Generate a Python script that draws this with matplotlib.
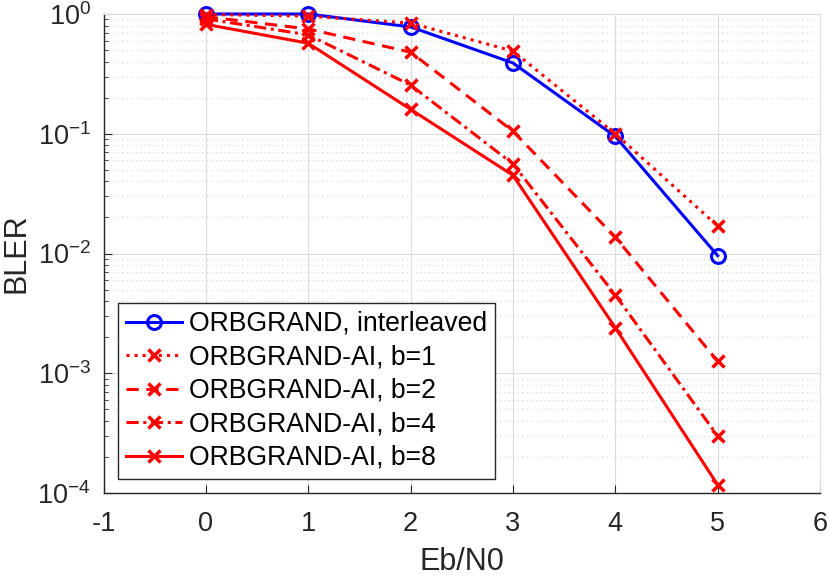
import numpy as np
import matplotlib.pyplot as plt
from matplotlib.ticker import LogLocator, NullFormatter

plt.rcParams['font.family'] = ['Liberation Sans', 'DejaVu Sans']
plt.rcParams['axes.unicode_minus'] = False
plt.rcParams['mathtext.fontset'] = 'custom'
plt.rcParams['mathtext.rm'] = 'Liberation Sans'
plt.rcParams['mathtext.it'] = 'Liberation Sans'

ebn0 = [0, 1, 2, 3, 4, 5]
bler_interleaved = [1.0, 1.0, 0.78, 0.39, 0.095, 0.0096]
bler_b1 = [0.99, 0.96, 0.84, 0.49, 0.10, 0.017]
bler_b2 = [0.95, 0.75, 0.48, 0.105, 0.0137, 0.00126]
bler_b4 = [0.91, 0.67, 0.255, 0.056, 0.0045, 0.0003]
bler_b8 = [0.82, 0.57, 0.16, 0.045, 0.0024, 0.000117]

labels = ["ORBGRAND, interleaved", "ORBGRAND-AI, b=1", "ORBGRAND-AI, b=2",
          "ORBGRAND-AI, b=4", "ORBGRAND-AI, b=8"]

fig = plt.figure(figsize=(8.3, 5.76), dpi=100)
ax = fig.add_axes([0.1247, 0.144, 0.8633, 0.8317])

lw = 2.2
ax.plot(ebn0, bler_interleaved, '-', color='#0000ff', lw=lw, marker='o',
        ms=10, mew=2.2, mfc='none', label=labels[0], clip_on=False, zorder=3)
red_series = [(bler_b1, ':'), (bler_b2, (0, (4, 2.5))), (bler_b4, (0, (4, 1.5, 1, 1.5))), (bler_b8, '-')]
for (vals, ls), lab in zip(red_series, labels[1:]):
    ax.plot(ebn0, vals, color='#ff0000', ls=ls, lw=lw, marker='x', ms=8, mew=2.5,
            label=lab, clip_on=False, zorder=3)

ax.set_yscale('log')
ax.set_xlim(-1, 6)
ax.set_ylim(1e-4, 1)
ax.set_xticks(range(-1, 7))
ax.yaxis.set_major_locator(LogLocator(base=10, numticks=10))
ax.yaxis.set_minor_locator(LogLocator(base=10, subs=np.arange(2, 10), numticks=20))
ax.yaxis.set_minor_formatter(NullFormatter())

ax.grid(True, which='major', color='#dcdcdc', lw=0.8)
ax.grid(True, which='minor', axis='y', color='#d0d0d0', lw=0.8, ls=(0, (1, 3)))
ax.set_axisbelow(True)

for s in ['top', 'right']:
    ax.spines[s].set_color('#dcdcdc')
for s in ['left', 'bottom']:
    ax.spines[s].set_color('#262626')
    ax.spines[s].set_linewidth(1.0)

ax.tick_params(axis='both', which='both', direction='in', labelsize=19.5, colors='#262626',
               top=False, right=False)
ax.tick_params(axis='both', which='major', length=6)
ax.tick_params(axis='x', which='major', pad=13)
ax.tick_params(axis='y', which='major', pad=9)
ax.tick_params(axis='y', which='minor', length=3)

ax.set_xlabel("Eb/N0", fontsize=22, color='#262626')
ax.set_ylabel("BLER", fontsize=22, color='#262626')
ax.xaxis.set_label_coords(0.5, -0.112)
ax.yaxis.set_label_coords(-0.1, 0.5)

leg = ax.legend(loc='upper left', bbox_to_anchor=(118 / 830, 1 - 303 / 576),
                bbox_transform=fig.transFigure, fontsize=19.2, fancybox=False,
                framealpha=1, edgecolor='#262626', borderaxespad=0, borderpad=0.3,
                handlelength=2.1, handletextpad=0.25, labelspacing=0.28)
leg.get_frame().set_linewidth(1.0)

fig.savefig("out.png", dpi=100)
